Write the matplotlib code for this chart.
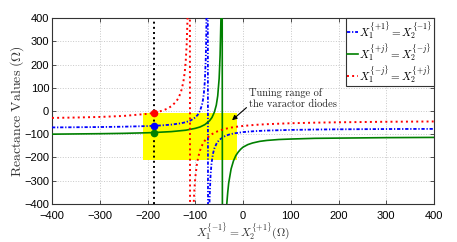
import matplotlib
matplotlib.use("Agg")
import matplotlib.pyplot as plt
from matplotlib.patches import Rectangle

plt.rcParams['mathtext.fontset'] = 'cm'

# ---- data ----
red_x = [-400, -350, -300, -250, -200, -187, -170, -160, -150, -140, -135, -130, -125, -122, -120, -118, -116, -114, -112,
         -110, -108, -106, -104, -102, -100, -97, -94, -90, -85, -80, -70, -60, -50, -40, -25, -10, 0, 25, 50, 100, 150, 200, 300, 400]
red_y = [-30, -28.3, -25.8, -21.5, -12.3, -8, 0.6, 8.5, 20.4, 40.4, 56.7, 81.6, 124, 168, 214, 286, 416, 718, 2230,
         -2770, -950, -586, -430, -343, -288, -235, -200.6, -170, -145, -128, -106.6, -93.5, -84.8, -78.5, -71.7, -67, -64.6, -60, -57, -52.9, -50.5, -48.8, -46.6, -45.3]

blue_x = [-400, -300, -250, -200, -187, -170, -150, -130, -120, -110, -100, -95, -90, -86, -84, -82, -80, -78, -77, -76, -74.5,
          -73, -72, -71, -70, -68, -66, -63, -60, -55, -50, -40, -30, -20, 0, 25, 50, 100, 150, 200, 300, 400]
blue_y = [-71, -69.3, -67.8, -65.1, -64, -62.1, -58.8, -53.1, -48.4, -41.1, -28.1, -17, 1, 26.2, 46.4, 76.7, 127, 228, 329, 531, 2347,
          -1286, -680, -478, -377, -276.5, -226, -184.8, -161.2, -138.4, -125.2, -110.3, -102.2, -97.1, -91.1, -86.9, -84.5, -81.7, -80.1, -79.1, -77.9, -77.3]

green_x = [-400, -300, -250, -200, -187, -150, -120, -100, -90, -80, -70, -65, -60, -56, -53, -50, -48, -46, -44,
           -42, -40, -38, -36, -34, -32, -30, -25, -20, -15, -10, -5, 0, 10, 20, 35, 50, 75, 100, 150, 200, 300, 400]
green_y = [-100, -98, -96.5, -94, -93, -89, -83, -75, -69, -59, -42, -28, -5, 25, 65, 140, 240, 420, 1200,
           -3000, -1100, -650, -480, -400, -350, -310, -250, -215, -192, -177, -165, -156, -145, -138, -131, -127, -123, -121, -118, -117, -115, -114]

op_x = -187
op_y = [-8, -64, -93]          # red, blue, green operating points
tune_x = [-210, -12]           # varactor tuning range (x)
tune_y = [-210, -8]            # varactor tuning range (y)

labels = [r'$X_1^{\{+1\}} = X_2^{\{-1\}}$',
          r'$X_1^{\{+j\}} = X_2^{\{-j\}}$',
          r'$X_1^{\{-j\}} = X_2^{\{+j\}}$']
ticks = [-400, -300, -200, -100, 0, 100, 200, 300, 400]

# ---- figure ----
fig = plt.figure(figsize=(4.57, 2.42), dpi=100)
ax = fig.add_axes([0.1138, 0.158, 0.836, 0.767])

ax.set_xlim(-400, 400)
ax.set_ylim(-400, 400)
ax.set_xticks(ticks)
ax.set_yticks(ticks)
ax.grid(True, linestyle=':', color='#c8c8c8', linewidth=0.7, zorder=0)
ax.set_axisbelow(True)

ax.add_patch(Rectangle((tune_x[0], tune_y[0]), tune_x[1] - tune_x[0], tune_y[1] - tune_y[0],
                       facecolor='#ffff00', edgecolor='none', zorder=1))

ax.plot([op_x, op_x], [-400, 400], color='black', linestyle=':', linewidth=1.4, zorder=2)

lb, = ax.plot(blue_x, blue_y, color='#0000ff', linewidth=1.3, dashes=(1.8, 1.0, 0.7, 1.0), zorder=3, label=labels[0])
lg, = ax.plot(green_x, green_y, color='#008000', linewidth=1.2, linestyle='-', zorder=3, label=labels[1])
lr, = ax.plot(red_x, red_y, color='#ff0000', linewidth=1.4, linestyle=':', zorder=3, label=labels[2])

for yy, cc in zip(op_y, ['#ff0000', '#0000ff', '#008000']):
    ax.plot([op_x], [yy], 'o', color=cc, markersize=4.5, zorder=4)

ax.annotate('Tuning range of\nthe varactor diodes', xy=(-23, -40), xytext=(13, 52),
            fontsize=7.5, family='cmr10', ha='left', va='center', color='#222222',
            arrowprops=dict(arrowstyle='-|>', color='black', lw=0.8, mutation_scale=7,
                            relpos=(0.0, 0.2), shrinkA=0, shrinkB=0), zorder=5)

leg = ax.legend(handles=[lb, lg, lr], loc='upper right', fontsize=8, handlelength=1.0,
                handletextpad=0.15, borderaxespad=0.0, borderpad=0.1, labelspacing=0.0,
                fancybox=False, framealpha=1, edgecolor='#333333')
leg.get_frame().set_linewidth(0.8)

for sp in ax.spines.values():
    sp.set_color('#333333')
    sp.set_linewidth(0.8)
ax.tick_params(direction='in', length=3, width=0.6, top=True, right=True, colors='#333333',
               labelsize=8, labelcolor='black', pad=2)
ax.tick_params(axis='x', pad=5)
for t in ax.get_xticklabels() + ax.get_yticklabels():
    t.set_fontfamily('Liberation Sans')

ax.set_xlabel(r'$X_1^{\{-1\}} = X_2^{\{+1\}}(\Omega)$', fontsize=8.3, color='#333333', va='bottom')
ax.xaxis.set_label_coords(0.5, -0.205)
ax.set_ylabel(r'$\mathrm{Reactance\ Values\ (\Omega)}$', fontsize=10, color='#333333', va='center')
ax.yaxis.set_label_coords(-0.092, 0.5)

fig.savefig('out.png', dpi=100)
